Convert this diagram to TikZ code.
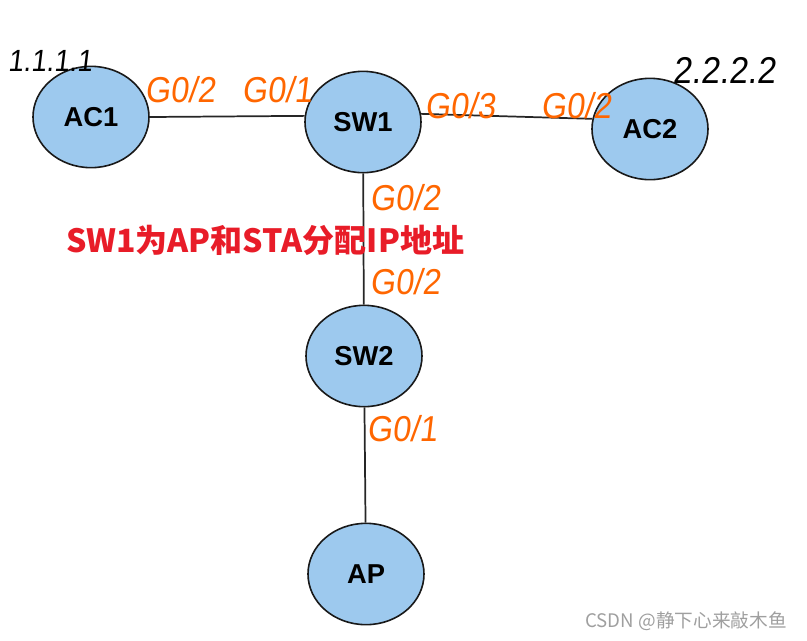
\documentclass[tikz,border=0pt]{standalone}
\usepackage{fontspec}
\setmainfont{Liberation Sans}
\newfontfamily\cjkfont{Noto Sans CJK SC}
\newfontfamily\handfont[FakeSlant=0.12,FakeStretch=0.9]{Liberation Sans}
\usepackage{xcolor}
\usepackage{tikz}
\usetikzlibrary{
    shapes.geometric,
    positioning
}

\definecolor{devblue}{RGB}{157,201,238}
\definecolor{portorange}{RGB}{255,102,0}
\definecolor{notered}{RGB}{232,28,40}

\begin{document}
\begin{tikzpicture}[
    x=0.75pt,
    y=-0.75pt,
    link/.style={
        draw=black!85,
        line width=1.3pt
    },
    dev/.style={
        ellipse,
        draw=black!90,
        fill=devblue,
        line width=1.2pt,
        minimum width=87pt,
        minimum height=76pt,
        inner sep=0pt,
        font=\fontsize{20.5}{24}\selectfont\bfseries
    },
    port/.style={
        text=portorange,
        inner sep=0pt,
        font=\handfont\fontsize{27}{30}\selectfont
    },
    addr/.style={
        text=black,
        inner sep=0pt,
        font=\handfont\fontsize{23}{26}\selectfont
    }
]

\useasboundingbox (0,0) rectangle (807,640);

% ============================================================
% DEVICES
% ============================================================

\node[dev] (ac1) at (91,117) {AC1};
\node[dev] (sw1) at (363,122) {SW1};
\node[dev] (ac2) at (650,129) {AC2};
\node[dev] (sw2) at (364,356) {SW2};
\node[dev] (ap)  at (366,574) {AP};

% ============================================================
% LINKS
% ============================================================

\draw[link] (ac1.east) -- (sw1.174);
\draw[link] (sw1.8) -- (ac2.170);
\draw[link] (sw1) -- (sw2);
\draw[link] (sw2) -- (ap);

% ============================================================
% PORT LABELS
% ============================================================

\node[port] (p-ac1) at (180,90)  {G0/2};
\node[port] (p-sw1a) at (277,90) {G0/1};
\node[port] (p-sw1b) at (460,106) {G0/3};
\node[port] (p-ac2) at (576,106) {G0/2};
\node[port] (p-sw1c) at (405,198) {G0/2};
\node[port] (p-sw2a) at (405,282) {G0/2};
\node[port] (p-sw2b) at (402,429) {G0/1};

% ============================================================
% ADDRESSES AND NOTES
% ============================================================

\node[addr] (ip1) at (50,61) {1.1.1.1};
\node[addr, font=\handfont\fontsize{28}{30}\selectfont]
    (ip2) at (724,70) {2.2.2.2};

\node[
    text=notered,
    inner sep=0pt,
    font=\cjkfont\bfseries\fontsize{24}{28}\selectfont
]
    (note) at (265,240)
    {SW1为AP和STA分配IP地址};

% Watermark
\node[
    text=gray!75,
    inner sep=0pt,
    font=\cjkfont\fontsize{14}{16}\selectfont
]
    (mark) at (686,621)
    {CSDN @静下心来敲木鱼};

\end{tikzpicture}
\end{document}
